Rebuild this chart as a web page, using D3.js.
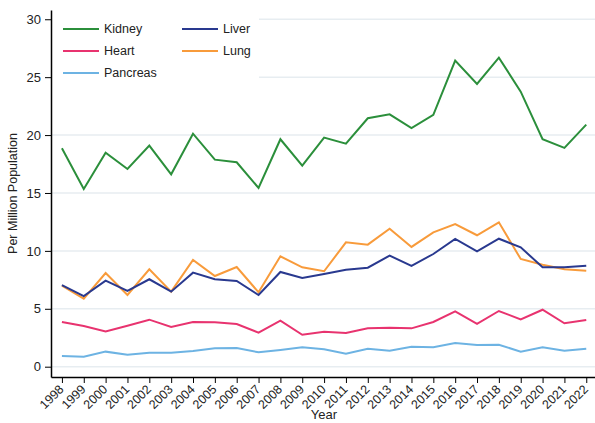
<!DOCTYPE html>
<html>

<head>
  <meta charset="utf-8" />
  <title>Per Million Population</title>
  <style>
    body {
      margin: 0;
      background: #fff;
    }

    svg text {
      font-family: "Liberation Sans", Arial, sans-serif;
      fill: #222;
    }
  </style>
  <script src="https://cdnjs.cloudflare.com/ajax/libs/d3/7.8.5/d3.min.js"></script>
</head>

<body>
  <div id="chartArea"></div>
  <script>
    var years = d3.range(1998, 2023);
    var kidney = [18.86, 15.35, 18.48, 17.07, 19.09, 16.61, 20.12, 17.88, 17.65, 15.43, 19.64, 17.36, 19.78,
      19.26, 21.45, 21.79, 20.61, 21.74, 26.43, 24.41, 26.69, 23.75, 19.64, 18.89, 20.9];
    var liver = [7.05, 6.1, 7.43, 6.54, 7.55, 6.48, 8.12, 7.55, 7.4, 6.19, 8.18, 7.66, 8.0,
      8.38, 8.55, 9.59, 8.7, 9.73, 11.03, 9.96, 11.05, 10.31, 8.58, 8.58, 8.72];
    var heart = [3.86, 3.51, 3.05, 3.54, 4.06, 3.43, 3.86, 3.83, 3.69, 2.94, 3.97, 2.76, 3.02,
      2.91, 3.31, 3.37, 3.31, 3.86, 4.78, 3.69, 4.81, 4.09, 4.92, 3.75, 4.03];
    var lung = [7.0, 5.87, 8.09, 6.19, 8.41, 6.48, 9.21, 7.83, 8.61, 6.42, 9.53, 8.58, 8.24,
      10.74, 10.54, 11.92, 10.34, 11.6, 12.32, 11.35, 12.47, 9.3, 8.81, 8.41, 8.29];
    var pancreas = [0.92, 0.86, 1.3, 1.04, 1.21, 1.21, 1.36, 1.59, 1.61, 1.24, 1.44, 1.67, 1.5,
      1.12, 1.55, 1.38, 1.73, 1.67, 2.05, 1.87, 1.9, 1.3, 1.67, 1.38, 1.55];
    var yTicks = [0, 5, 10, 15, 20, 25, 30];

    var series = [
      { name: 'Kidney', values: kidney, color: '#2b8f3b' },
      { name: 'Liver', values: liver, color: '#29398f' },
      { name: 'Heart', values: heart, color: '#e8336f' },
      { name: 'Lung', values: lung, color: '#f89b3b' },
      { name: 'Pancreas', values: pancreas, color: '#6db3e3' }
    ];
    // drawing order: back to front
    var drawOrder = ['Pancreas', 'Heart', 'Lung', 'Liver', 'Kidney'];

    var W = 595, H = 423;
    var margin = { top: 10, right: 0, bottom: 46, left: 51 };

    var xScale = d3.scaleLinear()
      .domain([1997.5, 2022.4])
      .range([margin.left, W - margin.right]);

    var yScale = d3.scaleLinear()
      .domain([-0.89, 30.8])
      .range([H - margin.bottom, margin.top]);

    var svg = d3.select('#chartArea').append('svg')
      .attr('width', W)
      .attr('height', H);

    // gridlines
    svg.append('g')
      .selectAll('line')
      .data(yTicks)
      .enter()
      .append('line')
      .attr('x1', margin.left)
      .attr('x2', W - margin.right)
      .attr('y1', d => yScale(d))
      .attr('y2', d => yScale(d))
      .attr('stroke', '#e7edf1')
      .attr('stroke-width', 1.5);

    var line = d3.line()
      .x((d, i) => xScale(years[i]))
      .y(d => yScale(d));

    drawOrder.forEach(function (n) {
      var s = series.find(d => d.name === n);
      svg.append('path')
        .datum(s.values)
        .attr('fill', 'none')
        .attr('stroke', s.color)
        .attr('stroke-width', 2)
        .attr('stroke-linejoin', 'miter')
        .attr('d', line);
    });

    // legend (white box hides the gridlines behind it)
    svg.append('rect')
      .attr('x', margin.left)
      .attr('y', margin.top)
      .attr('width', 208)
      .attr('height', 80)
      .attr('fill', '#fff');

    var legendPos = {
      Kidney: [63, 29], Liver: [182, 29],
      Heart: [63, 51], Lung: [182, 51],
      Pancreas: [63, 73]
    };
    var legend = svg.append('g')
      .selectAll('g')
      .data(series)
      .enter()
      .append('g')
      .attr('transform', d => 'translate(' + legendPos[d.name][0] + ',' + legendPos[d.name][1] + ')');
    legend.append('line')
      .attr('x1', 0)
      .attr('x2', 36)
      .attr('stroke', d => d.color)
      .attr('stroke-width', 2);
    legend.append('text')
      .attr('x', 41)
      .attr('dy', '0.35em')
      .style('font-size', '12.5px')
      .text(d => d.name);

    // y axis
    var yAxis = svg.append('g')
      .attr('transform', 'translate(' + margin.left + ',0)')
      .call(d3.axisLeft(yScale).tickValues(yTicks).tickSize(6).tickSizeOuter(0).tickPadding(4));
    yAxis.selectAll('text').style('font-size', '13px').attr('fill', '#222');
    yAxis.select('.domain').attr('stroke', '#000').attr('stroke-width', 1.5);

    // x axis
    var xAxis = svg.append('g')
      .attr('transform', 'translate(0,' + (H - margin.bottom) + ')')
      .call(d3.axisBottom(xScale).tickValues(years).tickFormat(d3.format('d')).tickSize(6).tickSizeOuter(0));
    xAxis.select('.domain').attr('stroke', '#000').attr('stroke-width', 1.5);
    xAxis.selectAll('text')
      .style('font-size', '12.5px')
      .attr('fill', '#222')
      .attr('text-anchor', 'end')
      .attr('x', 0)
      .attr('y', 0)
      .attr('dx', 0)
      .attr('dy', '0.35em')
      .attr('transform', 'translate(-1,10) rotate(-45)');

    // axis titles
    svg.append('text')
      .attr('x', 324)
      .attr('y', H - 4)
      .attr('text-anchor', 'middle')
      .style('font-size', '13px')
      .text('Year');

    svg.append('text')
      .attr('transform', 'translate(17,' + ((margin.top + H - margin.bottom) / 2) + ') rotate(-90)')
      .attr('text-anchor', 'middle')
      .style('font-size', '12.5px')
      .text('Per Million Population');
  </script>
</body>

</html>
